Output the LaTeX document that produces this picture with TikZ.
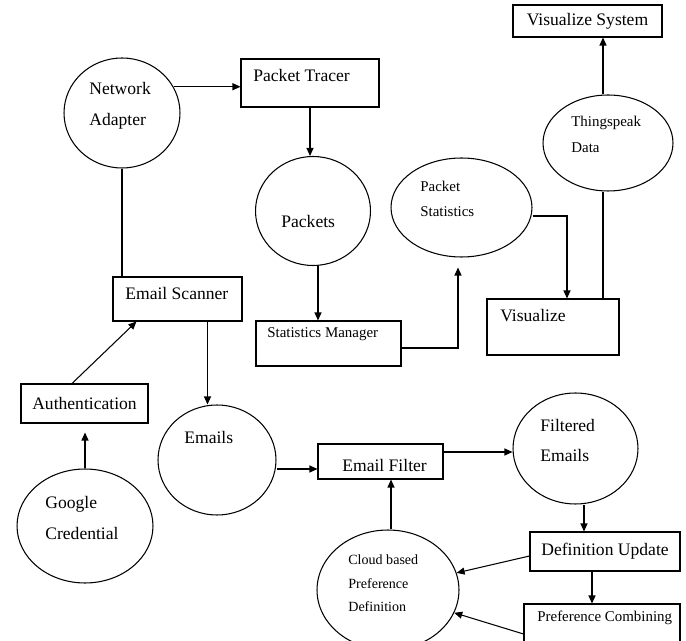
\documentclass[tikz,border=0pt]{standalone}
\usepackage{fontspec}
\setmainfont{Liberation Serif}
\usetikzlibrary{arrows.meta,shapes.geometric}

\begin{document}
\begin{tikzpicture}[x=0.02cm,y=-0.02cm,
  box/.style={draw, rectangle, line width=0.6pt, inner sep=0pt, font=\fontsize{10}{12}\selectfont},
  bubble/.style={draw, ellipse, line width=0.6pt, inner sep=0pt},
  lbl/.style={anchor=west, inner sep=0pt, align=left, font=\fontsize{10}{17.5}\selectfont},
  slbl/.style={anchor=west, inner sep=0pt, align=left, font=\fontsize{8.5}{14.5}\selectfont},
  tlbl/.style={anchor=west, inner sep=0pt, align=left, font=\fontsize{8}{13.3}\selectfont},
  flow/.style={line width=0.6pt, -{Triangle[length=1.6mm,width=1.4mm]}},
  link/.style={line width=0.6pt}]
\useasboundingbox (0,0) rectangle (686,641);
% Network side
\node[bubble, minimum width=2.32cm, minimum height=2.2cm] (na) at (122,113) {};
\node[lbl] (na-txt) at (89,105.5) {Network\\Adapter};
\node[box, minimum width=2.76cm, minimum height=0.96cm] (ptr) at (310,83) {};
\node[lbl] (ptr-txt) at (253,75) {Packet Tracer};
\node[bubble, minimum width=2.3cm, minimum height=2.18cm] (pkts) at (313,211) {};
\node[lbl] (pkts-txt) at (281,221) {Packets};
\node[box, minimum width=2.9cm, minimum height=0.9cm] (smgr) at (328.5,343.5) {};
\node[slbl] (smgr-txt) at (267,334) {Statistics Manager};
\node[bubble, minimum width=2.82cm, minimum height=1.98cm] (pstat) at (461.5,207.5) {};
\node[slbl] (pstat-txt) at (420,199) {Packet\\Statistics};
\node[box, minimum width=2.64cm, minimum height=1.12cm] (vis) at (553,327) {};
\node[lbl] (vis-txt) at (500,316) {Visualize};
\node[bubble, minimum width=2.6cm, minimum height=1.92cm] (tsd) at (608,143) {};
\node[slbl] (tsd-txt) at (571,134.5) {Thingspeak\\Data};
\node[box, minimum width=2.98cm, minimum height=0.64cm] (vsys) at (587.5,21) {Visualize System};
% Email side
\node[box, minimum width=2.58cm, minimum height=0.88cm] (escan) at (177.5,299) {};
\node[lbl] (escan-txt) at (125,293) {Email Scanner};
\node[box, minimum width=2.54cm, minimum height=0.78cm] (auth) at (84.5,403.5) {Authentication};
\node[bubble, minimum width=2.72cm, minimum height=2.28cm] (gcred) at (85,526) {};
\node[lbl] (gcred-txt) at (45,518) {Google\\Credential};
\node[bubble, minimum width=2.36cm, minimum height=2.2cm] (emails) at (217,460) {};
\node[lbl] (emails-txt) at (184,437) {Emails};
\node[box, minimum width=2.5cm, minimum height=0.7cm] (efil) at (380.5,461.5) {};
\node[lbl] (efil-txt) at (342,465) {Email Filter};
\node[bubble, minimum width=2.5cm, minimum height=2.22cm] (femails) at (575.5,448.5) {};
\node[lbl] (femails-txt) at (540,440.5) {Filtered\\Emails};
\node[box, minimum width=3.0cm, minimum height=0.78cm] (dupd) at (605,551.5) {Definition Update};
\node[bubble, minimum width=2.84cm, minimum height=2.4cm] (cloud) at (388,590) {};
\node[tlbl] (cloud-txt) at (348,583.5) {Cloud based\\Preference\\Definition};
\node[box, minimum width=3.12cm, minimum height=1.2cm] (pcomb) at (602,634) {};
\node[slbl] (pcomb-txt) at (537,618) {Preference Combining};
% Packet flow
\draw[flow] (na.27) -- (na.27 -| ptr.west);
\draw[flow] (ptr.south) -- (ptr.south |- pkts.north);
\draw[flow] ([xshift=0.1cm]pkts.south) -- ([xshift=0.1cm]pkts.south |- smgr.north);
\draw[flow, shorten >=0.2cm] ([yshift=-0.09cm]smgr.east) -| ([xshift=-0.07cm]pstat.south);
\draw[flow] ([yshift=-0.17cm]pstat.east) -| ([xshift=0.28cm]vis.north);
\draw[link] ([xshift=1cm]vis.north) -- ([xshift=1cm]vis.north |- tsd.south);
\draw[flow] ([xshift=-0.1cm]tsd.north) -- ([xshift=-0.1cm]tsd.north |- vsys.south);
% Email flow
\draw[link] (na.south) -- (na.south |- escan.north);
\draw[flow, shorten >=0.18cm] (gcred.north) -- (gcred.north |- auth.south);
\draw[flow] ([xshift=-0.25cm]auth.north) -- ([xshift=0.48cm]escan.south west);
\draw[flow] ([xshift=0.6cm]escan.south) -- ([xshift=0.6cm]escan.south |- emails.north);
\draw[flow] ([yshift=-0.18cm]emails.east) -- ([yshift=-0.18cm]emails.east -| efil.west);
\draw[flow] ([yshift=0.19cm]efil.east) -- ([yshift=0.19cm]efil.east -| femails.west);
\draw[flow] ([xshift=0.06cm]cloud.north) -- ([xshift=0.06cm]cloud.north |- efil.south);
\draw[flow] ([xshift=0.17cm]femails.south) -- ([xshift=0.17cm]femails.south |- dupd.north);
\draw[flow] ([xshift=-0.26cm]dupd.south) -- ([xshift=-0.26cm]dupd.south |- pcomb.north);
\draw[flow] ([yshift=-0.09cm]dupd.west) -- (cloud.14);
\draw[flow] (pcomb.west) -- (cloud.-19);
\end{tikzpicture}
\end{document}
